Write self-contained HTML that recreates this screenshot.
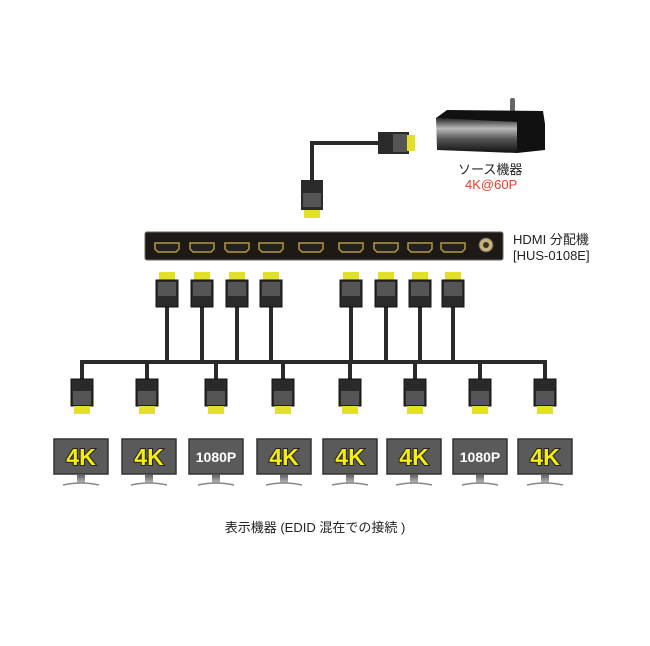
<!DOCTYPE html>
<html><head><meta charset="utf-8"><style>
body{margin:0;background:#fff;width:650px;height:646px;overflow:hidden}
svg{display:block}
text{font-family:"Liberation Sans","Noto Sans CJK JP",sans-serif}
.k{paint-order:stroke}
</style></head><body>
<svg width="650" height="646" viewBox="0 0 650 646" xmlns="http://www.w3.org/2000/svg">
<defs>
<linearGradient id="front" x1="0" y1="0" x2="0" y2="1">
<stop offset="0" stop-color="#222"/><stop offset="0.3" stop-color="#bbb"/><stop offset="0.6" stop-color="#555"/><stop offset="1" stop-color="#111"/></linearGradient>
<linearGradient id="stand" x1="0" y1="0" x2="0" y2="1"><stop offset="0" stop-color="#555"/><stop offset="1" stop-color="#bbb"/></linearGradient>
<g id="dconn"><rect x="-11" y="0" width="22" height="27" fill="#2a2a2a" stroke="#111"/><rect x="-9" y="12" width="18" height="14" fill="#555"/><rect x="-8" y="27" width="16" height="8" fill="#e3e02a"/></g>
<g id="uconn"><rect x="-8" y="0" width="16" height="8" fill="#e3e02a"/><rect x="-11" y="8" width="22" height="27" fill="#2a2a2a" stroke="#111"/><rect x="-9" y="10" width="18" height="14" fill="#555"/></g>
<g id="port"><path d="M-12,-4 H12 V2 L9,5 H-9 L-12,2 Z" fill="#222" stroke="#b8963e" stroke-width="1.5"/></g>
<g id="mon"><rect x="0" y="0" width="54" height="35" fill="#5a5a5a" stroke="#333" stroke-width="1.5"/><rect x="23" y="35" width="8" height="9" fill="url(#stand)"/><path d="M9,46 Q27,42 45,46" stroke="#888" stroke-width="1.5" fill="none"/></g>
</defs>
<!-- source box -->
<rect x="510" y="98" width="5" height="20" rx="2" fill="#666"/>
<polygon points="436,118 447,110 543,111 545,124 517,124" fill="#111"/>
<polygon points="436,118 517,122 517,153 437,150" fill="url(#front)"/>
<polygon points="517,122 545,124 545,150 517,153" fill="#111"/>
<!-- input cable -->
<path d="M378,143 H312 V182" stroke="#2a2a2a" stroke-width="4" fill="none"/>
<rect x="378" y="132" width="31" height="22" fill="#2a2a2a"/><rect x="393" y="134" width="14" height="18" fill="#555"/><rect x="407" y="135" width="8" height="16" fill="#e3e02a"/>
<rect x="301" y="180" width="22" height="30" fill="#2a2a2a"/><rect x="303" y="193" width="18" height="14" fill="#555"/><rect x="304" y="210" width="16" height="8" fill="#e3e02a"/>
<text x="458" y="174" font-size="13" fill="#222">ソース機器</text>
<text x="465" y="189" font-size="13" fill="#e8402a">4K@60P</text>
<!-- splitter -->
<rect x="145" y="232" width="358" height="28" rx="2" fill="#1d1a16" stroke="#666"/>
<use href="#port" x="167" y="247"/><use href="#port" x="202" y="247"/><use href="#port" x="237" y="247"/><use href="#port" x="271" y="247"/><use href="#port" x="311" y="247"/><use href="#port" x="351" y="247"/><use href="#port" x="386" y="247"/><use href="#port" x="420" y="247"/><use href="#port" x="453" y="247"/>
<circle cx="486" cy="245" r="7" fill="#c9b27a" stroke="#555"/><circle cx="486" cy="245" r="3" fill="#333"/>
<text x="513" y="244" font-size="13" fill="#222">HDMI 分配機</text>
<text x="513" y="260" font-size="13" fill="#222">[HUS-0108E]</text>
<!-- cables -->
<g stroke="#2a2a2a" stroke-width="4" fill="none">
<path d="M167,300 V362 M202,300 V362 M237,300 V362 M271,300 V362 M351,300 V362 M386,300 V362 M420,300 V362 M453,300 V362"/>
<path d="M80,362 H547"/>
<path d="M82,360 V380 M147,360 V380 M216,360 V380 M283,360 V380 M350,360 V380 M415,360 V380 M480,360 V380 M545,360 V380"/>
</g>
<use href="#uconn" x="167" y="272"/><use href="#uconn" x="202" y="272"/><use href="#uconn" x="237" y="272"/><use href="#uconn" x="271" y="272"/><use href="#uconn" x="351" y="272"/><use href="#uconn" x="386" y="272"/><use href="#uconn" x="420" y="272"/><use href="#uconn" x="453" y="272"/>
<use href="#dconn" x="82" y="379"/><use href="#dconn" x="147" y="379"/><use href="#dconn" x="216" y="379"/><use href="#dconn" x="283" y="379"/><use href="#dconn" x="350" y="379"/><use href="#dconn" x="415" y="379"/><use href="#dconn" x="480" y="379"/><use href="#dconn" x="545" y="379"/>
<!-- monitors -->
<use href="#mon" x="54" y="439"/><use href="#mon" x="122" y="439"/><use href="#mon" x="189" y="439"/><use href="#mon" x="257" y="439"/><use href="#mon" x="323" y="439"/><use href="#mon" x="387" y="439"/><use href="#mon" x="453" y="439"/><use href="#mon" x="518" y="439"/>
<g class="k" font-size="23" font-weight="bold" fill="#f5ec10" stroke="#222" stroke-width="2" text-anchor="middle">
<text x="81" y="465">4K</text><text x="149" y="465">4K</text><text x="284" y="465">4K</text><text x="350" y="465">4K</text><text x="414" y="465">4K</text><text x="545" y="465">4K</text>
</g>
<g font-size="14" font-weight="bold" fill="#fff" text-anchor="middle"><text x="216" y="462">1080P</text><text x="480" y="462">1080P</text></g>
<text x="315" y="532" font-size="13" fill="#222" text-anchor="middle">表示機器 (EDID 混在での接続 )</text>
</svg>
</body></html>
